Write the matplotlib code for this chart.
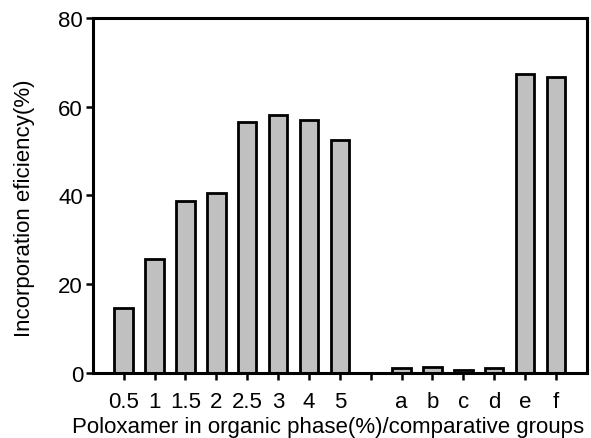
import matplotlib
matplotlib.use("Agg")
import matplotlib.pyplot as plt
import numpy as np

plt.rcParams["font.family"] = ["Liberation Sans", "DejaVu Sans"]

# Poloxamer concentration in organic phase (%)
poloxamer_labels = ["0.5", "1", "1.5", "2", "2.5", "3", "4", "5"]
poloxamer_values = [14.6, 25.7, 38.8, 40.6, 56.6, 58.2, 57.1, 52.4]

# comparative groups
group_labels = ["a", "b", "c", "d", "e", "f"]
group_values = [1.1, 1.3, 0.6, 1.1, 67.4, 66.6]

# one empty slot separates the two groups
tick_labels = poloxamer_labels + [""] + group_labels
pos_polox = np.arange(len(poloxamer_labels))
pos_group = np.arange(len(group_labels)) + len(poloxamer_labels) + 1

fig = plt.figure(figsize=(5.91, 4.39), dpi=100)
ax = fig.add_axes([0.157, 0.148, 0.836, 0.809])

bar_kw = dict(width=0.6, color="#c0c0c0", edgecolor="black", linewidth=2.0)
ax.bar(pos_polox, poloxamer_values, **bar_kw)
ax.bar(pos_group, group_values, **bar_kw)

ax.set_xlim(-1, len(tick_labels))
ax.set_ylim(0, 80)
ax.set_xticks(np.arange(len(tick_labels)))
ax.set_xticklabels(tick_labels)
ax.set_yticks([0, 20, 40, 60, 80])

for spine in ax.spines.values():
    spine.set_linewidth(2.2)
ax.tick_params(axis="both", direction="out", length=5, width=1.8, labelsize=16)
ax.tick_params(axis="x", pad=8)
ax.tick_params(axis="y", pad=2)

# axis titles placed in figure coords to match the original layout
fig.text(0.042, 0.526, "Incorporation eficiency(%)", fontsize=16,
         rotation=90, ha="center", va="center")
fig.text(0.555, 0.026, "Poloxamer in organic phase(%)/comparative groups",
         fontsize=16, ha="center", va="center")

fig.savefig("out.png", dpi=100)
